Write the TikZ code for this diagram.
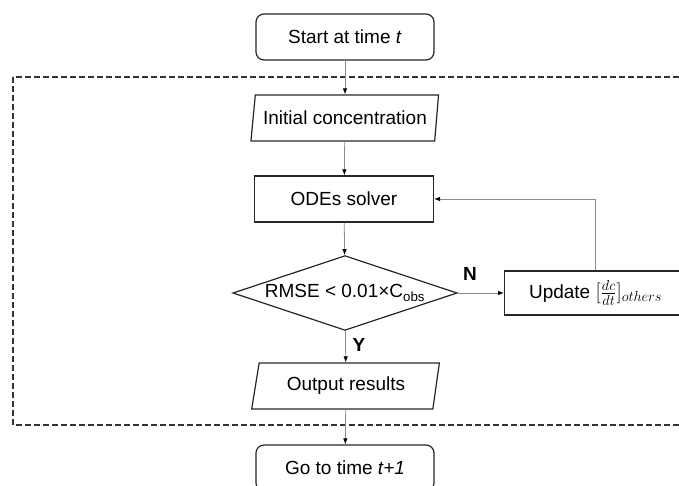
\documentclass[tikz,border=0pt]{standalone}
\usepackage{amsmath}
\usepackage{fontspec}
\setmainfont{Liberation Sans}
\usetikzlibrary{shapes.geometric,arrows.meta,positioning}

\begin{document}
\begin{tikzpicture}[x=1pt,y=-1pt,
  font=\fontsize{19}{22}\selectfont,
  every node/.style={draw=black!85, line width=1.2pt, inner sep=0pt},
  term/.style={rectangle, rounded corners=8pt, minimum width=178pt, minimum height=46pt},
  proc/.style={rectangle, minimum width=179pt, minimum height=46pt},
  io/.style={trapezium, trapezium left angle=74, trapezium right angle=104,
    trapezium stretches=true, minimum width=188pt, minimum height=46pt},
  test/.style={diamond, aspect=3, inner sep=1.6pt},
  flow/.style={draw=black!45, line width=0.8pt, -{Latex[length=6pt,width=4.5pt,color=black]}},
  tag/.style={draw=none, font=\fontsize{19}{22}\selectfont\bfseries}]
\path[use as bounding box] (0,0) rectangle (679,486);
\clip (0,0) rectangle (679,486);

% loop region
\draw[black!80, line width=1.2pt, dash pattern=on 6pt off 3pt] (13,77) rectangle (700,425);

\node[term] (start) at (345,37) {Start at time \textit{t}};
\node[io] (init) at (345,118) {Initial concentration};
\node[proc] (ode) at (344,199) {ODEs solver};
\node[test] (check) at (345,293) {RMSE < 0.01×C\textsubscript{obs}};
\node[proc, minimum width=182pt, minimum height=44pt, anchor=west] (update) at (504,293)
  {Update {\fontsize{22}{24}\selectfont$[\tfrac{dc}{dt}]_{others}$}};
\node[io] (out) at (346,386) {Output results};
\node[term] (next) at (345,468) {Go to time \textit{t+1}};

\draw[flow] (start) -- (init);
\draw[flow] (init) -- (ode);
\draw[flow] (ode) -- (check);
\draw[flow] (check) -- (out);
\draw[flow] (out) -- (next);
\draw[flow] (check.east) -- (update.west);
\draw[flow] (update.north) |- (ode.east);

\node[tag] (no) at (470,274) {N};
\node[tag] (yes) at (359,345) {Y};
\end{tikzpicture}
\end{document}
